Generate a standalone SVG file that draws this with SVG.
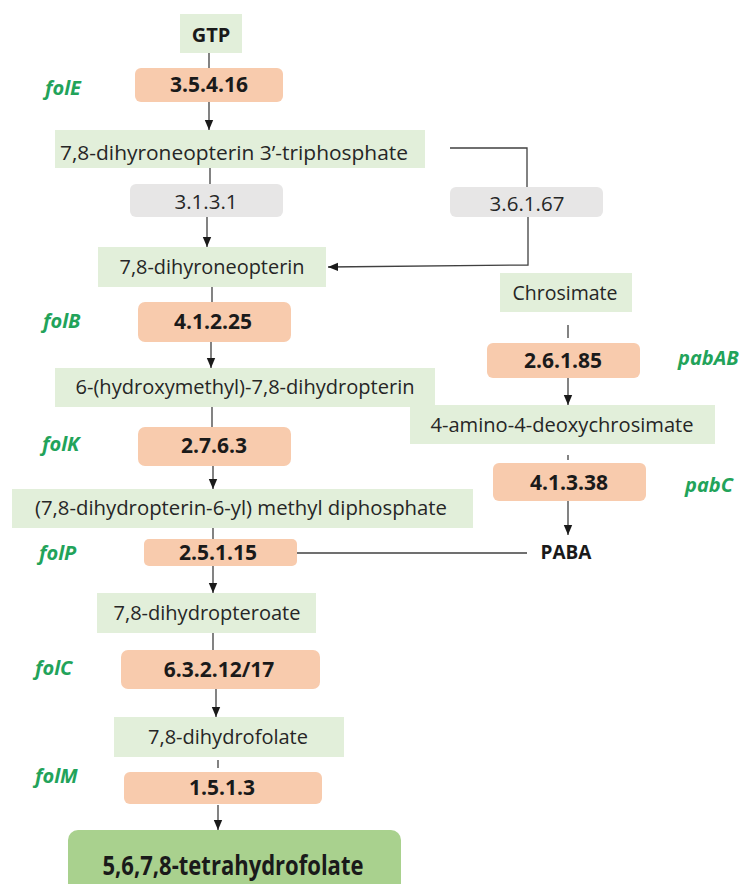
<svg xmlns="http://www.w3.org/2000/svg" width="742" height="884" viewBox="0 0 742 884">
<style>
.m{fill:#e2efda}
.e{fill:#f8cbad}
.g{fill:#e7e6e6}
.t{font-family:"Open Sans","Liberation Sans",sans-serif;font-size:20px;fill:#262626;text-anchor:middle}
.b{font-family:"Open Sans","Liberation Sans",sans-serif;font-size:21px;font-weight:bold;fill:#1a1a1a;text-anchor:middle}
.r{font-family:"Open Sans","Liberation Sans",sans-serif;font-size:20.5px;fill:#262626;text-anchor:middle}
.gene{font-family:"Open Sans","Liberation Sans",sans-serif;font-size:20px;font-weight:bold;font-style:italic;fill:#22a35a}
.c{stroke:#404040;stroke-width:1.3;fill:none}
</style>
<defs>
<marker id="ah" markerUnits="userSpaceOnUse" markerWidth="10" markerHeight="10" viewBox="0 0 10 10" refX="10" refY="5" orient="auto">
<path d="M0,0.8 L10,5 L0,9.2 Z" fill="#1a1a1a"/>
</marker>
</defs>
<rect width="742" height="884" fill="#ffffff"/>
<g id="connectors">
<line class="c" x1="209" y1="53" x2="209" y2="68"/>
<line class="c" x1="209" y1="102" x2="209" y2="130" marker-end="url(#ah)"/>
<line class="c" x1="210" y1="168" x2="210" y2="184"/>
<line class="c" x1="207" y1="217" x2="207" y2="247" marker-end="url(#ah)"/>
<polyline class="c" points="450,148 527,148 527,187"/>
<polyline class="c" points="528,217 528,265 328,267" marker-end="url(#ah)"/>
<line class="c" x1="212" y1="287" x2="212" y2="302"/>
<line class="c" x1="211" y1="342" x2="211" y2="368" marker-end="url(#ah)"/>
<line class="c" x1="212" y1="407" x2="212" y2="427"/>
<line class="c" x1="213" y1="466" x2="213" y2="489" marker-end="url(#ah)"/>
<line class="c" x1="213" y1="528" x2="213" y2="539"/>
<line class="c" x1="213" y1="566" x2="213" y2="593" marker-end="url(#ah)"/>
<line class="c" x1="297" y1="553" x2="527" y2="553"/>
<line class="c" x1="213" y1="633" x2="213" y2="650"/>
<line class="c" x1="216" y1="689" x2="216" y2="717" marker-end="url(#ah)"/>
<line class="c" x1="218" y1="760" x2="218" y2="768"/>
<line class="c" x1="218" y1="805" x2="218" y2="830" marker-end="url(#ah)"/>
<line class="c" x1="568" y1="325" x2="568" y2="338"/>
<line class="c" x1="568" y1="378" x2="568" y2="405" marker-end="url(#ah)"/>
<line class="c" x1="568" y1="455" x2="568" y2="460"/>
<line class="c" x1="568" y1="501" x2="568" y2="535" marker-end="url(#ah)"/>
</g>
<g id="gtp"><rect class="m" x="180" y="14" width="62" height="39"/><text class="b" x="211" y="42" style="font-size:20px">GTP</text></g>
<g id="folE"><text class="gene" x="45" y="95">folE</text></g>
<g id="e3_5_4_16"><rect class="e" x="135" y="68" width="148" height="34" rx="6"/><text class="b" x="209" y="92">3.5.4.16</text></g>
<g id="dhnp3tp"><rect class="m" x="55" y="130" width="370" height="38"/><text class="t" x="234" y="160" textLength="348" lengthAdjust="spacingAndGlyphs">7,8-dihyroneopterin 3’-triphosphate</text></g>
<g id="e3_1_3_1"><rect class="g" x="130" y="184" width="153" height="33" rx="6"/><text class="r" x="206" y="209">3.1.3.1</text></g>
<g id="e3_6_1_67"><rect class="g" x="450" y="187" width="153" height="30" rx="6"/><text class="r" x="527" y="211">3.6.1.67</text></g>
<g id="dhnp"><rect class="m" x="98" y="247" width="228" height="40"/><text class="t" x="212" y="274" textLength="185" lengthAdjust="spacingAndGlyphs">7,8-dihyroneopterin</text></g>
<g id="folB"><text class="gene" x="43" y="328">folB</text></g>
<g id="e4_1_2_25"><rect class="e" x="138" y="302" width="153" height="40" rx="7"/><text class="b" x="213" y="329">4.1.2.25</text></g>
<g id="hmdhp"><rect class="m" x="55" y="368" width="380" height="39"/><text class="t" x="245" y="394" textLength="339" lengthAdjust="spacingAndGlyphs">6-(hydroxymethyl)-7,8-dihydropterin</text></g>
<g id="folK"><text class="gene" x="42" y="451">folK</text></g>
<g id="e2_7_6_3"><rect class="e" x="138" y="427" width="153" height="39" rx="7"/><text class="b" x="214" y="453">2.7.6.3</text></g>
<g id="dhpmdp"><rect class="m" x="12" y="489" width="461" height="39"/><text class="t" x="241" y="515" textLength="412" lengthAdjust="spacingAndGlyphs">(7,8-dihydropterin-6-yl) methyl diphosphate</text></g>
<g id="folP"><text class="gene" x="39" y="560">folP</text></g>
<g id="e2_5_1_15"><rect class="e" x="144" y="539" width="153" height="27" rx="5"/><text class="b" x="218" y="560">2.5.1.15</text></g>
<g id="dhpt"><rect class="m" x="97" y="593" width="219" height="40"/><text class="t" x="207" y="620" textLength="187" lengthAdjust="spacingAndGlyphs">7,8-dihydropteroate</text></g>
<g id="folC"><text class="gene" x="35" y="675">folC</text></g>
<g id="e6_3_2_12"><rect class="e" x="121" y="650" width="199" height="39" rx="7"/><text class="b" x="219" y="677">6.3.2.12/17</text></g>
<g id="dhf"><rect class="m" x="114" y="717" width="230" height="40"/><text class="t" x="228" y="744" textLength="160" lengthAdjust="spacingAndGlyphs">7,8-dihydrofolate</text></g>
<g id="folM"><text class="gene" x="35" y="783">folM</text></g>
<g id="e1_5_1_3"><rect class="e" x="124" y="772" width="198" height="32" rx="6"/><text class="b" x="222" y="795">1.5.1.3</text></g>
<g id="thf"><rect x="68" y="830" width="333" height="70" rx="10" fill="#a9d18e"/><text class="b" x="233" y="875" style="font-size:26px" textLength="261" lengthAdjust="spacingAndGlyphs">5,6,7,8-tetrahydrofolate</text></g>
<g id="chorismate"><rect class="m" x="500" y="273" width="132" height="39"/><text class="t" x="565" y="300" textLength="105" lengthAdjust="spacingAndGlyphs">Chrosimate</text></g>
<g id="e2_6_1_85"><rect class="e" x="487" y="343" width="153" height="35" rx="6"/><text class="b" x="563" y="368">2.6.1.85</text></g>
<g id="pabAB"><text class="gene" x="678" y="365">pabAB</text></g>
<g id="adc"><rect class="m" x="410" y="405" width="305" height="39"/><text class="t" x="562" y="432" textLength="263" lengthAdjust="spacingAndGlyphs">4-amino-4-deoxychrosimate</text></g>
<g id="e4_1_3_38"><rect class="e" x="493" y="463" width="153" height="38" rx="6"/><text class="b" x="569" y="490">4.1.3.38</text></g>
<g id="pabC"><text class="gene" x="685" y="492">pabC</text></g>
<g id="paba"><text class="b" x="566" y="559" style="font-size:19px">PABA</text></g>
</svg>
